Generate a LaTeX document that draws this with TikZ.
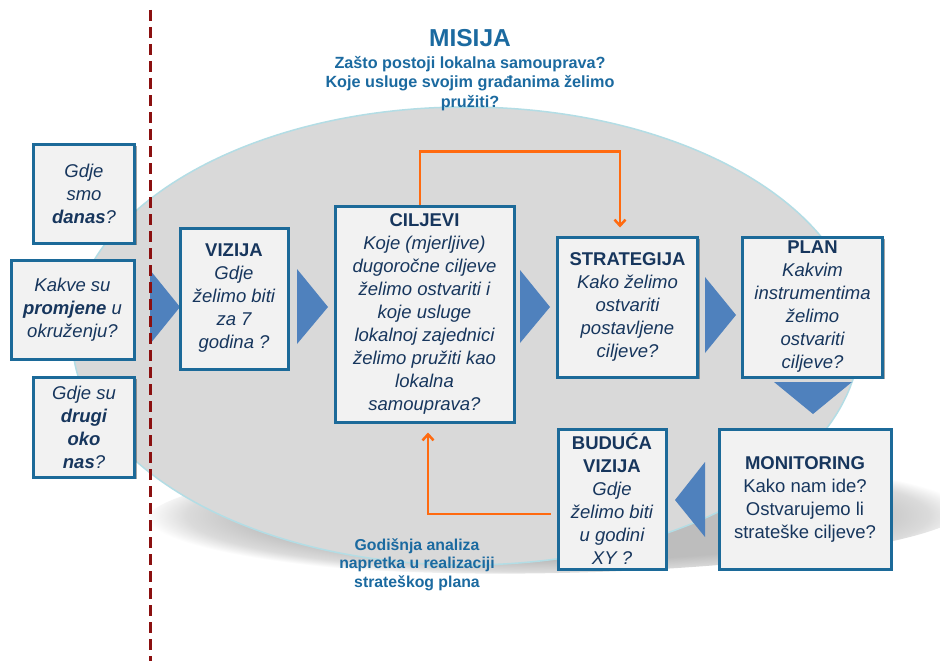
\documentclass[tikz,border=0pt]{standalone}
\usepackage{fontspec}
\setmainfont{Liberation Sans}
\usetikzlibrary{arrows.meta,shadows,calc}
\definecolor{navy}{HTML}{17365D}
\definecolor{boxblue}{HTML}{1C6A99}
\definecolor{boxfill}{HTML}{F2F2F2}
\definecolor{ellfill}{HTML}{D9D9D9}
\definecolor{elledge}{HTML}{B3DDE5}
\definecolor{triblue}{HTML}{4F81BD}
\definecolor{orng}{HTML}{FF6A10}
\definecolor{titleblue}{HTML}{1B6AA0}
\definecolor{dashred}{HTML}{8B1010}
\definecolor{shgray}{HTML}{BDBDBD}
\pgfdeclareradialshading{ellshadow}{\pgfpoint{0bp}{0bp}}{%
  color(0bp)=(shgray); color(18bp)=(shgray); color(22.5bp)=(shgray!55!white); color(25bp)=(white); color(50bp)=(white)}
\tikzset{
  box/.style={draw=boxblue, line width=3pt, fill=boxfill, align=center, text=navy,
    font=\fontsize{18.5}{23}\selectfont, inner sep=0pt, anchor=center,
    drop shadow={shadow xshift=2pt, shadow yshift=-2pt, opacity=0.35, fill=black}},
  tri/.style={fill=triblue, draw=none},
  orangeline/.style={draw=orng, line width=2.5pt, -{Straight Barb[length=6pt,width=11pt,line width=2.5pt]}},
  ttl/.style={text=titleblue, anchor=base, inner sep=0pt},
}
\begin{document}
\begin{tikzpicture}[x=1pt,y=-1pt]
\useasboundingbox (0,0) rectangle (940,661);
\fill[white] (0,0) rectangle (940,661);
% shadow of the ellipse
\shade[shading=ellshadow, rotate around={1.2:(558,513)}] (558,513) ellipse (412 and 60);
% ellipse
\draw[fill=ellfill, draw=elledge, line width=1.5pt] (466,336) ellipse (394 and 229);

% titles
\node[ttl, font=\fontsize{24.5}{28}\selectfont\bfseries] (mis) at (470,47) {MISIJA};
\node[ttl, font=\fontsize{16.2}{19}\selectfont\bfseries] (m1) at (470,69) {Zašto postoji lokalna samouprava?};
\node[ttl, font=\fontsize{16.2}{19}\selectfont\bfseries] (m2) at (470,88) {Koje usluge svojim građanima želimo};
\node[ttl, font=\fontsize{16.2}{19}\selectfont\bfseries] (m3) at (470,107) {pružiti?};

\node[ttl, font=\fontsize{15.8}{19}\selectfont\bfseries] (g1) at (417,550) {Godišnja analiza};
\node[ttl, font=\fontsize{15.8}{19}\selectfont\bfseries] (g2) at (417,568.5) {napretka u realizaciji};
\node[ttl, font=\fontsize{15.8}{19}\selectfont\bfseries] (g3) at (417,587) {strateškog plana};

% triangles
\fill[tri] (150,270) -- (180,307) -- (150,344) -- cycle;
\fill[tri] (297,269) -- (328,307) -- (297,344) -- cycle;
\fill[tri] (520,270) -- (550,307) -- (520,343) -- cycle;
\fill[tri] (705,277) -- (736,315) -- (705,353) -- cycle;
\fill[tri] (774,382) -- (852,382) -- (813,414) -- cycle;
\fill[tri] (705,462) -- (675,500) -- (705,537) -- cycle;

% boxes
\node[box, minimum width=101, minimum height=99] (danas) at (84,193.5)
  {\itshape Gdje\\ \itshape smo\\ \itshape\bfseries danas\mdseries?};
\node[box, minimum width=123, minimum height=99] (prom) at (72.5,309.5)
  {\itshape Kakve su\\ \itshape\bfseries promjene\mdseries{} u\\ \itshape okruženju?};
\node[box, minimum width=101, minimum height=100] (drugi) at (84,427)
  {\itshape Gdje su\\ \itshape\bfseries drugi\\ \itshape\bfseries oko\\ \itshape\bfseries nas\mdseries?};
\node[box, minimum width=108, minimum height=141] (viz) at (234,298.5)
  {\bfseries VIZIJA\\ \itshape Gdje\\ \itshape želimo biti\\ \itshape za 7\\ \itshape godina ?};
\node[box, minimum width=179, minimum height=216] (cil) at (424.5,314)
  {\bfseries CILJEVI\\ \itshape Koje (mjerljive)\\ \itshape dugoročne ciljeve\\ \itshape želimo ostvariti i\\ \itshape koje usluge\\ \itshape lokalnoj zajednici\\ \itshape želimo pružiti kao\\ \itshape lokalna\\ \itshape samouprava?};
\node[box, minimum width=140, minimum height=140] (str) at (627.5,307)
  {\bfseries STRATEGIJA\\ \itshape Kako želimo\\ \itshape ostvariti\\ \itshape postavljene\\ \itshape ciljeve?};
\node[box, minimum width=140, minimum height=140] (plan) at (812.5,307)
  {\bfseries PLAN\\ \itshape Kakvim\\ \itshape instrumentima\\ \itshape želimo\\ \itshape ostvariti\\ \itshape ciljeve?};
\node[box, minimum width=108, minimum height=140] (bud) at (612,499)
  {\bfseries BUDUĆA\\ \bfseries VIZIJA\\ \itshape Gdje\\ \itshape želimo biti\\ \itshape u godini\\ \itshape XY ?};
\node[box, minimum width=172, minimum height=140] (mon) at (805,499)
  {\bfseries MONITORING\\ Kako nam ide?\\ Ostvarujemo li\\ strateške ciljeve?};

% orange connectors
\draw[orangeline] ([shift={(-4.5,0)}]cil.north) -- ++(0,-53) -| ([shift={(-7.5,-8)}]str.north);
\draw[orangeline] ([shift={(-6,15)}]bud.west) -| ([shift={(3.5,9)}]cil.south);

% dashed separator
\coordinate (dtop) at (150,10);
\coordinate (dbot) at (150,661);
\draw[dashred, line width=3pt, dash pattern=on 11pt off 6pt] (dtop) -- (dbot);
\end{tikzpicture}
\end{document}
